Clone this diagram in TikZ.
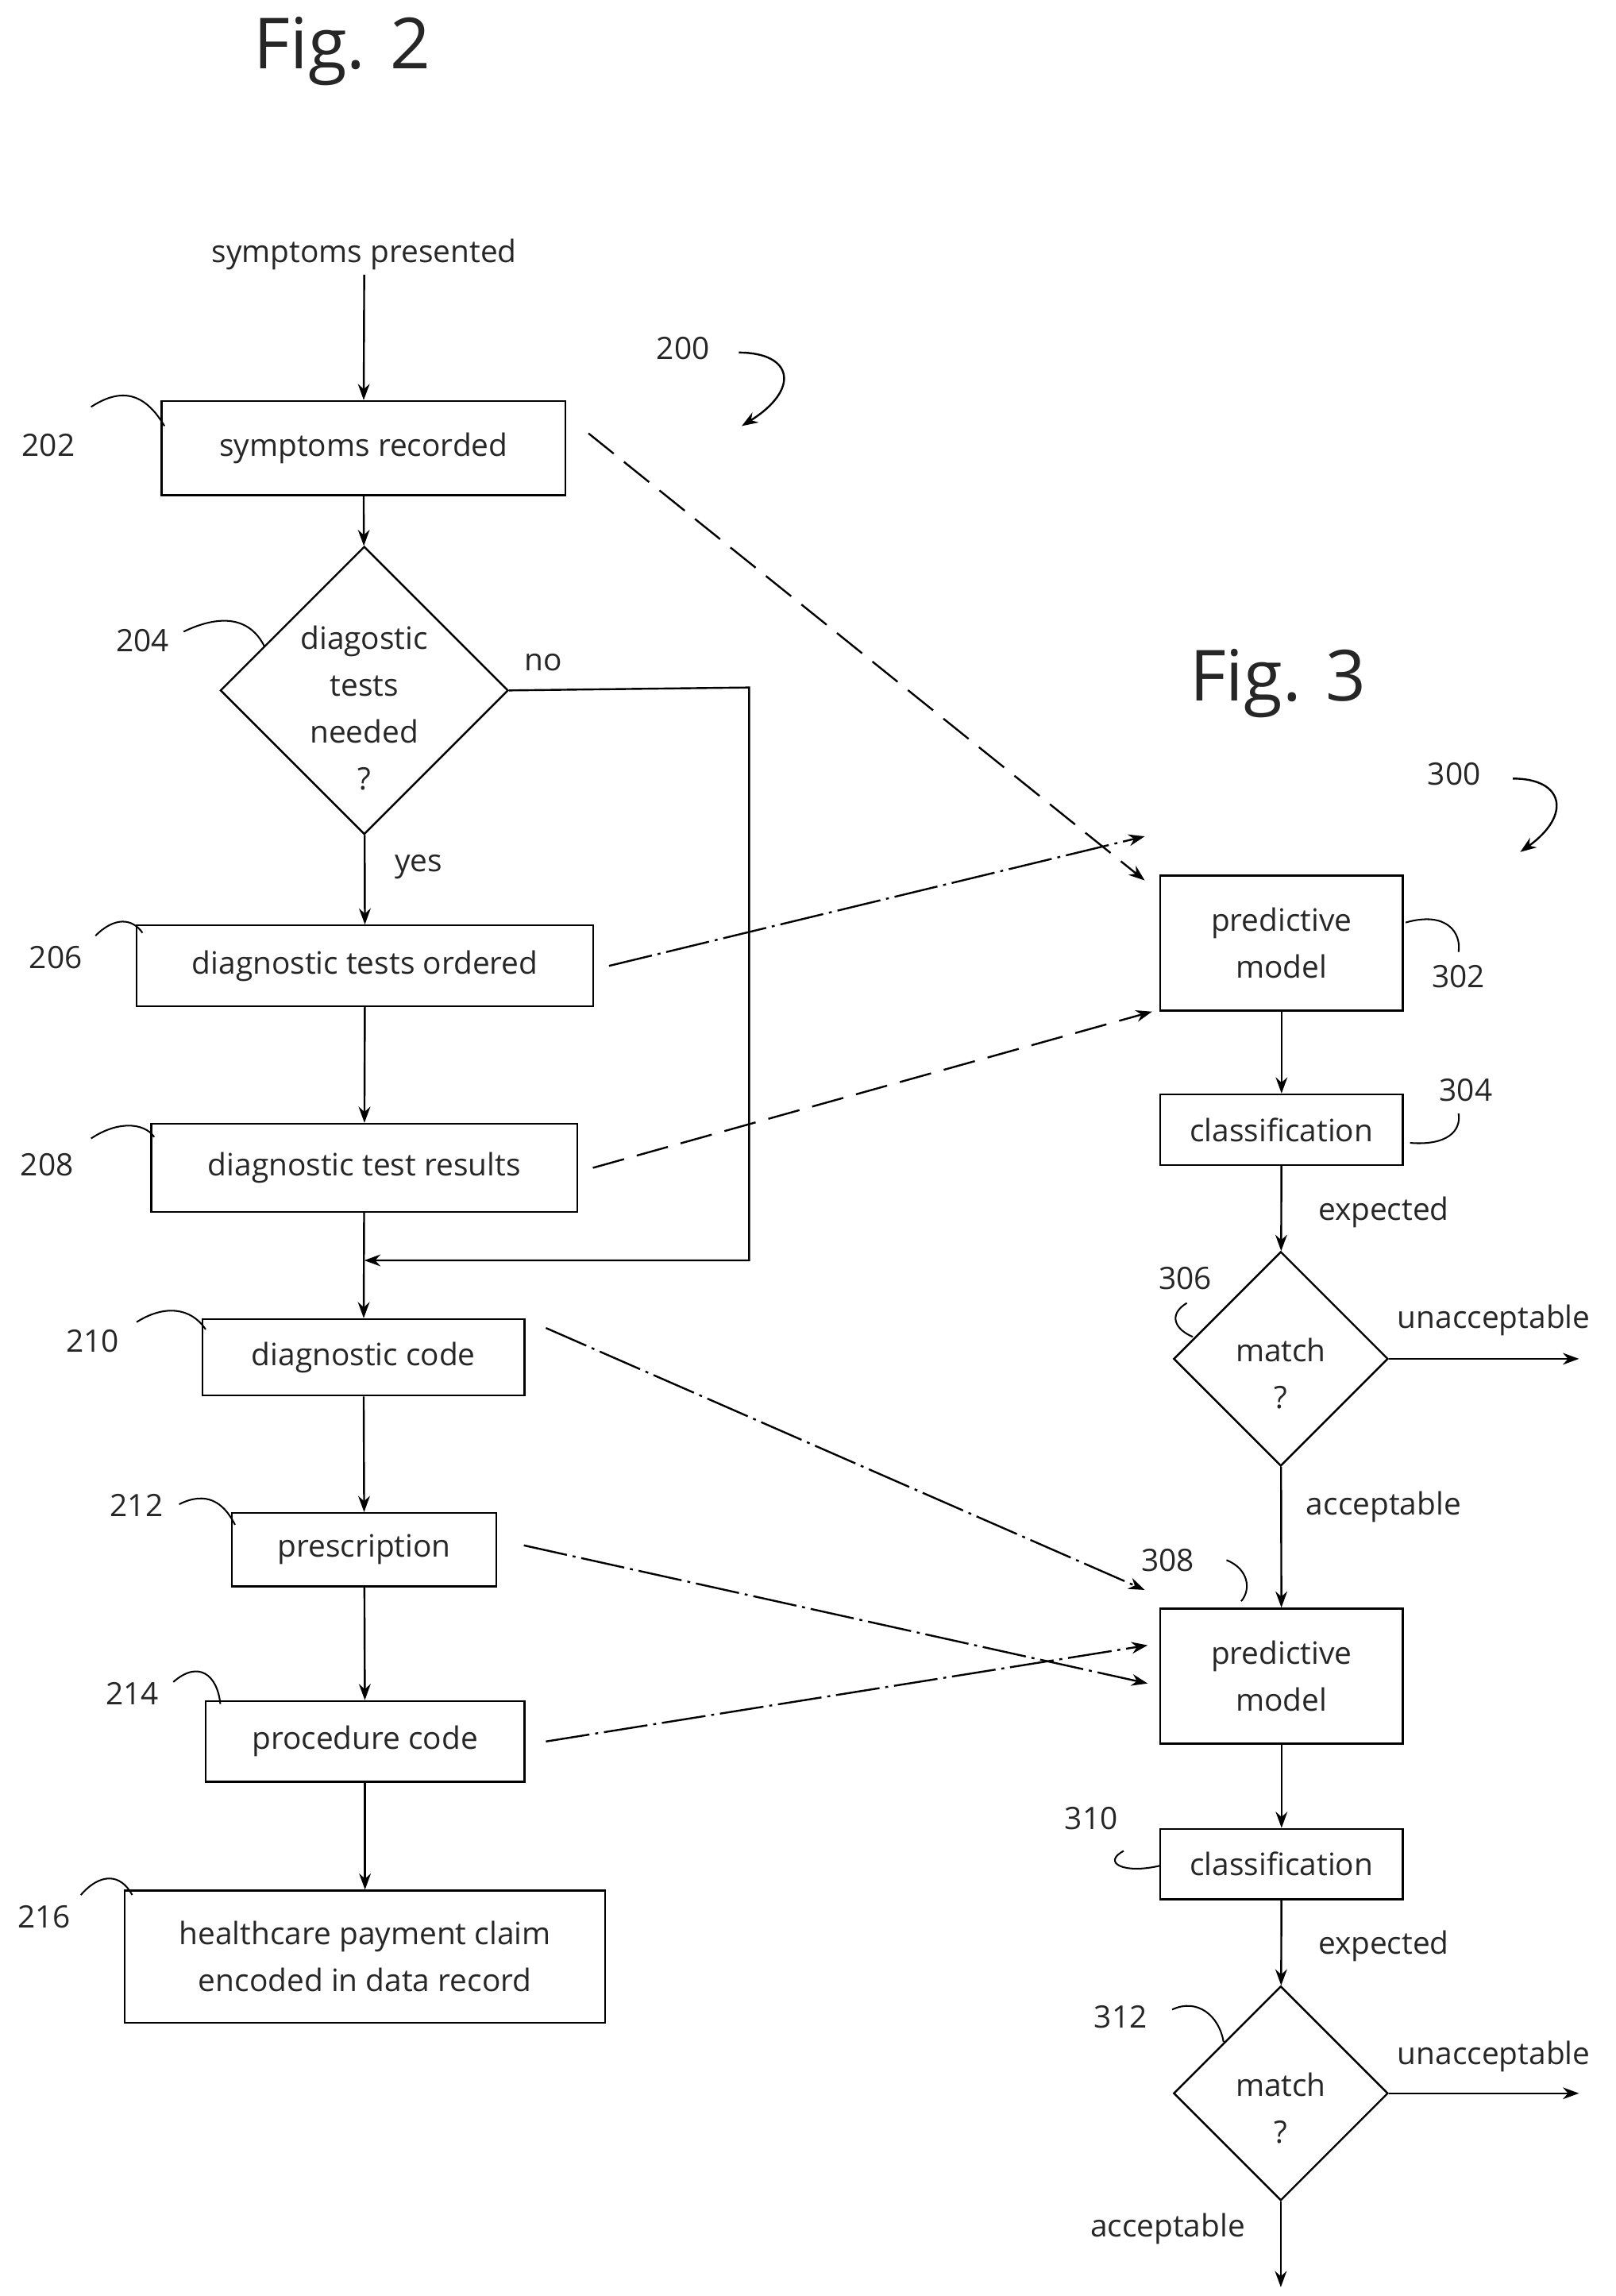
\documentclass[tikz,border=0pt]{standalone}
\usepackage{fontspec}
\setmainfont{Open Sans}
\usetikzlibrary{shapes.geometric,arrows.meta}
\begin{document}
\begin{tikzpicture}[x=1pt,y=-1pt,
  every node/.style={font=\fontsize{21}{32}\selectfont, text=black!85},
  box/.style={draw, line width=1.3pt, rectangle, inner sep=0pt, align=center},
  dia/.style={draw, line width=1.3pt, diamond, aspect=1, inner sep=0pt},
  arr/.style={line width=1.3pt, -{Stealth[length=11pt,width=8pt]}},
  darr/.style={arr, dash pattern=on 22pt off 9pt},
  ddarr/.style={arr, dash pattern=on 30pt off 4pt on 2pt off 4pt},
  lead/.style={line width=1.1pt},
  lbl/.style={font=\fontsize{21}{24}\selectfont},
  title/.style={font=\fontsize{48}{50}\selectfont}]
\useasboundingbox (0,0) rectangle (1100,1563);
\fill[white] (0,0) rectangle (1100,1563);
% Fig 2
\node[title] (f2) at (233,35) {Fig. 2};
\node (sp) at (248,173) {symptoms presented};
\node[box, minimum width=275pt, minimum height=64pt] (b202) at (247.5,305) {symptoms recorded};
\node[dia, minimum width=196pt, minimum height=196pt] (d204) at (248,470) {};
\node[align=center, font=\fontsize{21}{32}\selectfont] (t204) at (248,482) {diagostic\\tests\\needed\\?};
\node[box, minimum width=311pt, minimum height=55pt] (b206) at (248.5,657.5) {diagnostic tests ordered};
\node[box, minimum width=290pt, minimum height=60pt] (b208) at (248,795) {diagnostic test results};
\node[box, minimum width=219pt, minimum height=52pt] (b210) at (247.5,924) {diagnostic code};
\node[box, minimum width=180pt, minimum height=50pt] (b212) at (248,1055) {prescription};
\node[box, minimum width=217pt, minimum height=55pt] (b214) at (248.5,1185.5) {procedure code};
\node[box, minimum width=327pt, minimum height=90pt, font=\fontsize{21}{32}\selectfont] (b216) at (248.5,1332) {healthcare payment claim\\encoded in data record};
\coordinate (j) at (248,858);
\coordinate (nr) at (510,468);
\coordinate (nb) at (510,858);
\draw[arr] (sp) -- (b202);
\draw[arr] (b202) -- (d204);
\draw[arr] (d204) -- (b206);
\draw[arr] (b206) -- (b208);
\draw[arr] (b208) -- (b210);
\draw[arr] (b210) -- (b212);
\draw[arr] (b212) -- (b214);
\draw[arr] (b214) -- (b216);
\draw[arr] (d204.east) -- (nr) -- (nb) -- (j);
\node (no) at (370,451) {no};
\node (yes) at (285,590) {yes};
\node (l200) at (465,237) {200};
\coordinate (a200s) at (503,240);
\coordinate (a200e) at (505,290);
\draw[arr] (a200s) .. controls (540,240) and (545,265) .. (a200e);
% Fig 3
\node[title] (f3) at (870,465) {Fig. 3};
\node (l300) at (990,527) {300};
\coordinate (a300s) at (1030,530);
\coordinate (a300e) at (1035,580);
\draw[arr] (a300s) .. controls (1065,530) and (1070,555) .. (a300e);
\node[box, minimum width=165pt, minimum height=92pt] (b302) at (872.5,642) {predictive\\model};
\node[box, minimum width=165pt, minimum height=48pt] (b304) at (872.5,769) {classification};
\node[dia, minimum width=146pt, minimum height=146pt] (d306) at (872,925) {};
\node[align=center] (t306) at (872,935) {match\\?};
\node[box, minimum width=165pt, minimum height=92pt] (b308) at (872.5,1141) {predictive\\model};
\node[box, minimum width=165pt, minimum height=48pt] (b310) at (872.5,1269) {classification};
\node[dia, minimum width=146pt, minimum height=146pt] (d312) at (872,1425) {};
\node[align=center] (t312) at (872,1435) {match\\?};
\coordinate (u1) at (1075,925);
\coordinate (u2) at (1075,1425);
\coordinate (endd) at (872,1557);
\draw[arr] (b302) -- (b304);
\draw[arr] (b304) -- (d306);
\draw[arr] (d306) -- (b308);
\draw[arr] (b308) -- (b310);
\draw[arr] (b310) -- (d312);
\draw[arr] (d306.east) -- (u1);
\draw[arr] (d312.east) -- (u2);
\draw[arr] (d312.south) -- (endd);
\node (e1) at (942,825) {expected};
\node (e2) at (942,1325) {expected};
\node (ua1) at (1017,899) {unacceptable};
\node (ua2) at (1017,1400) {unacceptable};
\node (ac1) at (942,1026) {acceptable};
\node (ac2) at (795,1517) {acceptable};
% dashed connectors
\draw[darr] ([xshift=15pt,yshift=10pt]b202.east) -- ([xshift=-10pt,yshift=-4pt]b302.north west);
\draw[ddarr] ([xshift=10pt]b206.east) -- ([xshift=-10pt,yshift=26pt]b302.north west);
\draw[darr] ([xshift=10pt]b208.east) -- ([xshift=-5pt]b302.south west);
\draw[ddarr] ([xshift=14pt,yshift=20pt]b210.east) -- ([xshift=-10pt,yshift=12pt]b308.north west);
\draw[ddarr] ([xshift=18pt,yshift=3pt]b212.east) -- ([xshift=-8pt,yshift=-5pt]b308.west);
\draw[ddarr] ([xshift=14pt]b214.east) -- ([xshift=-8pt,yshift=21pt]b308.west);
% reference labels with leaders
\node[lbl] (n202) at (33,303) {202};
\draw[lead] (62,277) .. controls (85,262) and (100,270) .. (112,290);
\node[lbl] (n204) at (97,436) {204};
\draw[lead] (125,430) .. controls (150,418) and (170,420) .. (180,440);
\node[lbl] (n206) at (38,652) {206};
\draw[lead] (65,637) .. controls (78,624) and (90,625) .. (97,635);
\node[lbl] (n208) at (32,793) {208};
\draw[lead] (62,775) .. controls (80,763) and (98,764) .. (105,774);
\node[lbl] (n210) at (63,913) {210};
\draw[lead] (93,900) .. controls (112,888) and (130,890) .. (140,905);
\node[lbl] (n212) at (93,1025) {212};
\draw[lead] (122,1024) .. controls (140,1015) and (152,1022) .. (160,1038);
\node[lbl] (n214) at (90,1153) {214};
\draw[lead] (118,1145) .. controls (135,1130) and (148,1140) .. (150,1160);
\node[lbl] (n216) at (30,1305) {216};
\draw[lead] (55,1290) .. controls (68,1275) and (82,1275) .. (90,1290);
\node[lbl] (n302) at (993,665) {302};
\draw[lead] (957,628) .. controls (985,620) and (995,635) .. (993,648);
\node[lbl] (n304) at (998,742) {304};
\draw[lead] (960,778) .. controls (985,780) and (995,770) .. (993,758);
\node[lbl] (n306) at (807,870) {306};
\draw[lead] (808,887) .. controls (795,895) and (800,905) .. (812,910);
\node[lbl] (n308) at (795,1062) {308};
\draw[lead] (835,1062) .. controls (850,1068) and (852,1082) .. (845,1090);
\node[lbl] (n310) at (743,1238) {310};
\draw[lead] (765,1260) .. controls (750,1268) and (765,1276) .. (790,1270);
\node[lbl] (n312) at (763,1373) {312};
\draw[lead] (798,1368) .. controls (815,1360) and (830,1372) .. (833,1390);
\end{tikzpicture}
\end{document}
